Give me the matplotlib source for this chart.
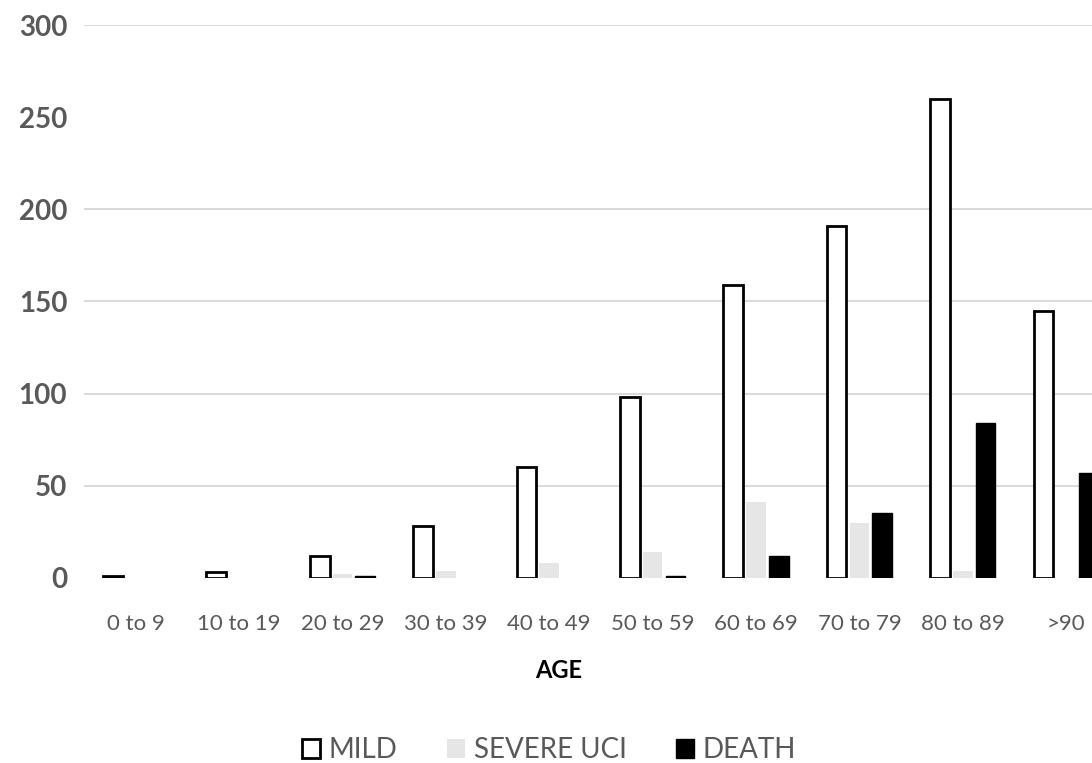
import numpy as np
import matplotlib.pyplot as plt
from matplotlib.patches import Patch

# data
age_groups = ['0 to 9', '10 to 19', '20 to 29', '30 to 39', '40 to 49',
              '50 to 59', '60 to 69', '70 to 79', '80 to 89', '>90']
mild = [1, 3, 12, 28, 60, 98, 159, 191, 260, 145]
severe_uci = [0, 0, 2, 4, 8, 14, 41, 30, 4, 0]
death = [0, 0, 1, 0, 0, 1, 12, 35, 84, 57]
y_ticks = [0, 50, 100, 150, 200, 250, 300]
grid_at = [50, 100, 150, 200, 300]   # no line at 250 in the original

plt.rcParams['font.family'] = ['Lato', 'DejaVu Sans']

fig = plt.figure(figsize=(10.92, 7.63), dpi=100)
ax = fig.add_axes([0.0769, 0.2425, 0.9231, 0.7247])

x = np.arange(len(age_groups))
w = 0.19
off = 0.22

for g in grid_at:
    ax.axhline(g, color='#D9D9D9', linewidth=1.4, zorder=0)

ax.bar(x - off, mild, w, facecolor='white', edgecolor='black', linewidth=2.0, zorder=3)
ax.bar(x, severe_uci, w, facecolor='#E6E6E6', edgecolor='none', zorder=3)
# zero-height bars get no outline, otherwise a stray line shows on the baseline
death_edges = ['black' if v > 0 else 'none' for v in death]
ax.bar(x + off, death, w, facecolor='black', edgecolor=death_edges, linewidth=1.0, zorder=3)

ax.set_xlim(-0.5, 9.25)
ax.set_ylim(0, 300)
ax.set_yticks(y_ticks)
ax.set_yticklabels([str(v) for v in y_ticks], fontsize=20, fontweight='bold', color='#595959')
ax.set_xticks(x)
ax.set_xticklabels(age_groups, fontsize=16, color='#595959')
ax.tick_params(axis='x', length=0, pad=26)
ax.tick_params(axis='y', length=0, pad=12)
for s in ax.spines.values():
    s.set_visible(False)

fig.text(559 / 1092, 1 - 671 / 763, 'AGE', fontsize=17, fontweight='bold',
         color='black', ha='center', va='center')

handles = [Patch(facecolor='white', edgecolor='black', linewidth=2.0),
           Patch(facecolor='#E6E6E6', edgecolor='none'),
           Patch(facecolor='black', edgecolor='black')]
leg = fig.legend(handles, ['MILD', 'SEVERE UCI', 'DEATH'], loc='center',
                 bbox_to_anchor=(549 / 1092, 1 - 750 / 763), ncol=3, frameon=False,
                 fontsize=20, handlelength=0.65, handleheight=0.65,
                 handletextpad=0.3, columnspacing=1.8, borderpad=0)
for t in leg.get_texts():
    t.set_color('#595959')

fig.savefig('out.png', dpi=100)
